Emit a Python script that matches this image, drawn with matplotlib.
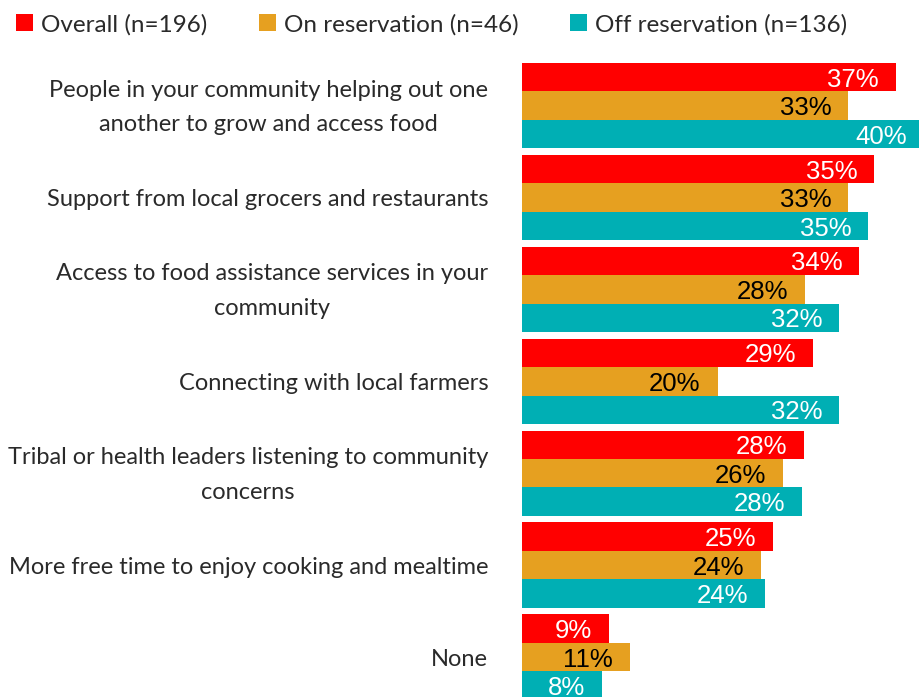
import matplotlib
matplotlib.use("Agg")
import matplotlib.pyplot as plt
from matplotlib.patches import Patch
from matplotlib.transforms import ScaledTranslation
import numpy as np

categories = [
    "People in your community helping out one\nanother to grow and access food",
    "Support from local grocers and restaurants",
    "Access to food assistance services in your\ncommunity",
    "Connecting with local farmers",
    "Tribal or health leaders listening to community\nconcerns",
    "More free time to enjoy cooking and mealtime",
    "None",
]
series_names = ["Overall (n=196)", "On reservation (n=46)", "Off reservation (n=136)"]
overall = [37.2, 35.1, 33.6, 29.0, 28.1, 25.0, 8.7]
on_res = [32.5, 32.5, 28.2, 19.5, 26.0, 23.8, 10.8]
off_res = [40.0, 34.5, 31.6, 31.6, 27.9, 24.2, 8.0]
labels_overall = ["37%", "35%", "34%", "29%", "28%", "25%", "9%"]
labels_on = ["33%", "33%", "28%", "20%", "26%", "24%", "11%"]
labels_off = ["40%", "35%", "32%", "32%", "28%", "24%", "8%"]

colors = ["#FF0000", "#E6A020", "#00AFB4"]
text_colors = ["white", "black", "white"]

W, H = 920, 697
fig = plt.figure(figsize=(W / 100, H / 100), dpi=100)
ax_left_px, ax_top_px = 521.7, 55
ax = fig.add_axes([ax_left_px / W, 0, 1 - ax_left_px / W, (H - ax_top_px) / H])

y = np.arange(len(categories))
h = 0.31
px_per_unit = 91.9
ax.set_ylim(6 + (H - 657) / px_per_unit, -(105.7 - ax_top_px) / px_per_unit)
ax.set_xlim(0, (W - ax_left_px) / 10.05)

all_vals = [overall, on_res, off_res]
all_labels = [labels_overall, labels_on, labels_off]
for i, (vals, labs) in enumerate(zip(all_vals, all_labels)):
    pos = y + (i - 1) * h
    ax.barh(pos, vals, height=h, color=colors[i], edgecolor="none")
    for p, v, t in zip(pos, vals, labs):
        ax.annotate(t, xy=(v, p), xytext=(-17, 0), textcoords="offset pixels",
                    ha="right", va="center_baseline", color=text_colors[i],
                    fontsize=18.5, family="Liberation Sans", annotation_clip=False)

ax.set_yticks(y)
ax.set_yticklabels(categories, family="Lato", fontsize=17,
                   color="#2a2a2a", multialignment="center", linespacing=1.8)
ax.tick_params(axis="y", length=0, pad=24)
for lab in ax.get_yticklabels():
    if "\n" in lab.get_text():
        lab.set_transform(lab.get_transform() + ScaledTranslation(0, 7 / 100, fig.dpi_scale_trans))
ax.set_xticks([])
for s in ax.spines.values():
    s.set_visible(False)

handles = [Patch(facecolor=c, edgecolor="none") for c in colors]
fig.legend(handles, series_names, loc="upper left", bbox_to_anchor=(-6 / W, 1 + 8 / H),
           ncol=3, frameon=False, handlelength=0.7, handleheight=0.7,
           handletextpad=0.35, columnspacing=2.1,
           prop={"family": "Lato", "size": 17.5}, labelcolor="#2a2a2a")

fig.savefig("out.png", dpi=100)
